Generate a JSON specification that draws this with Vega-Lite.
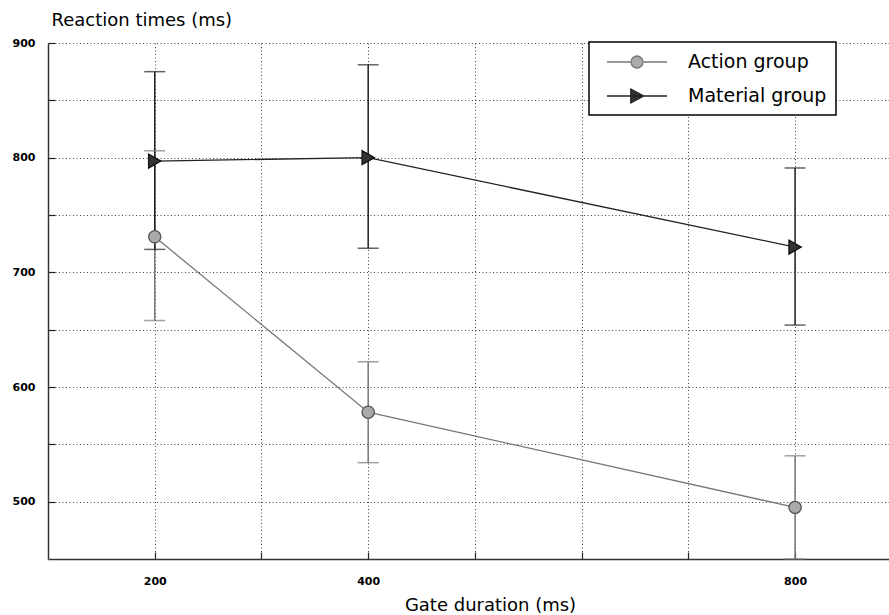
{
  "$schema": "https://vega.github.io/schema/vega-lite/v6.json",
  "width": 841,
  "height": 516,
  "autosize": "none",
  "padding": {"left": 48, "top": 43, "right": 0, "bottom": 56},
  "background": "white",
  "config": {
    "view": {"stroke": null},
    "font": "DejaVu Sans"
  },
  "data": {
    "values": [
      {"group": "Action group", "gate": 200, "rt": 731, "lo": 658, "hi": 806},
      {"group": "Action group", "gate": 400, "rt": 578, "lo": 534, "hi": 622},
      {"group": "Action group", "gate": 800, "rt": 495, "lo": 450, "hi": 540},
      {"group": "Material group", "gate": 200, "rt": 797, "lo": 720, "hi": 875},
      {"group": "Material group", "gate": 400, "rt": 800, "lo": 721, "hi": 881},
      {"group": "Material group", "gate": 800, "rt": 722, "lo": 654, "hi": 791}
    ]
  },
  "encoding": {
    "x": {
      "field": "gate",
      "type": "quantitative",
      "scale": {"domain": [100, 888], "nice": false, "zero": false},
      "axis": {
        "title": "Gate duration (ms)",
        "titleFont": "DejaVu Sans",
        "titleFontSize": 18,
        "titleFontWeight": "normal",
        "titleColor": "black",
        "titleX": 442,
        "titleAlign": "center",
        "titleY": 51,
        "titleBaseline": "alphabetic",
        "values": [200, 300, 400, 500, 600, 700, 800],
        "labelExpr": "indexof([200, 400, 800], datum.value) >= 0 ? datum.label : ''",
        "labelFont": "DejaVu Sans",
        "labelFontSize": 11,
        "labelFontWeight": "bold",
        "labelColor": "black",
        "labelPadding": 23,
        "tickSize": -7,
        "tickColor": "#222",
        "tickWidth": 1.2,
        "domainColor": "#333",
        "domainWidth": 1.5,
        "grid": true,
        "gridColor": "#444",
        "gridDash": [1, 2.5],
        "gridWidth": 1
      }
    },
    "y": {
      "type": "quantitative",
      "scale": {"domain": [450, 900], "nice": false, "zero": false},
      "axis": {
        "title": "Reaction times (ms)",
        "titleFont": "DejaVu Sans",
        "titleFontSize": 18,
        "titleFontWeight": "normal",
        "titleColor": "black",
        "titleAngle": 0,
        "titleAlign": "left",
        "titleBaseline": "alphabetic",
        "titleX": 3,
        "titleY": -18,
        "values": [500, 550, 600, 650, 700, 750, 800, 850, 900],
        "labelExpr": "datum.value % 100 == 0 ? datum.label : ''",
        "labelFont": "DejaVu Sans",
        "labelFontSize": 11,
        "labelFontWeight": "bold",
        "labelColor": "black",
        "labelPadding": 20,
        "tickSize": -7,
        "tickColor": "#222",
        "tickWidth": 1.2,
        "domainColor": "#333",
        "domainWidth": 1.5,
        "grid": true,
        "gridColor": "#444",
        "gridDash": [1, 2.5],
        "gridWidth": 1
      }
    }
  },
  "layer": [
    {
      "mark": {"type": "point", "filled": true, "opacity": 0},
      "encoding": {
        "y": {"field": "rt", "type": "quantitative"},
        "fill": {
          "field": "group",
          "type": "nominal",
          "scale": {"domain": ["Action group", "Material group"], "range": ["#aaaaaa", "#333333"]},
          "legend": {
            "title": null,
            "orient": "none",
            "legendX": 541,
            "legendY": -1,
            "direction": "vertical",
            "padding": 9,
            "strokeColor": "black",
            "fillColor": "white",
            "labelFont": "DejaVu Sans",
            "labelFontSize": 19,
            "labelColor": "black",
            "labelExpr": "datum.label + '\u00a0\u00a0\u00a0\u00a0\u00a0'",
            "symbolSize": 400,
            "symbolOffset": 28,
            "labelOffset": 40,
            "rowPadding": 13,
            "symbolStrokeWidth": 1.3,
            "encode": {
              "legend": {"update": {"strokeWidth": {"value": 1.5}}},
              "symbols": {
                "update": {
                  "shape": {"signal": "datum.value === 'Action group' ? 'M-3,0H-0.6M0.6,0H3M0.6,0A0.6,0.6,0,1,1,-0.6,0A0.6,0.6,0,1,1,0.6,0Z' : 'M-3,0H3M-0.62,-0.7L0.68,0L-0.62,0.7Z'"},
                  "stroke": {"signal": "datum.value === 'Action group' ? '#707070' : '#222222'"},
                  "size": {"value": 400},
                  "opacity": {"value": 1},
                  "strokeWidth": {"value": 1.3}
                }
              }
            }
          }
        }
      }
    },
    {
      "mark": {"type": "rule", "strokeWidth": 1.5},
      "encoding": {
        "y": {"field": "lo", "type": "quantitative"},
        "y2": {"field": "hi"},
        "color": {
          "field": "group",
          "type": "nominal",
          "scale": {"domain": ["Action group", "Material group"], "range": ["#777777", "#222222"]}
        }
      }
    },
    {
      "mark": {"type": "tick", "orient": "horizontal", "size": 21, "thickness": 1.5},
      "encoding": {
        "y": {"field": "lo", "type": "quantitative"},
        "color": {"field": "group", "type": "nominal"}
      }
    },
    {
      "mark": {"type": "tick", "orient": "horizontal", "size": 21, "thickness": 1.5},
      "encoding": {
        "y": {"field": "hi", "type": "quantitative"},
        "color": {"field": "group", "type": "nominal"}
      }
    },
    {
      "mark": {"type": "line", "strokeWidth": 1.3},
      "encoding": {
        "y": {"field": "rt", "type": "quantitative"},
        "color": {"field": "group", "type": "nominal"}
      }
    },
    {
      "mark": {"type": "point", "filled": true, "opacity": 1, "strokeWidth": 1.3},
      "encoding": {
        "y": {"field": "rt", "type": "quantitative"},
        "shape": {
          "condition": {"test": "datum.group == 'Action group'", "value": "circle"},
          "value": "triangle-right"
        },
        "size": {
          "condition": {"test": "datum.group == 'Action group'", "value": 150},
          "value": 200
        },
        "stroke": {
          "field": "group",
          "type": "nominal",
          "scale": {"domain": ["Action group", "Material group"], "range": ["#555555", "#111111"]}
        },
        "fill": {"field": "group", "type": "nominal"}
      }
    }
  ]
}
